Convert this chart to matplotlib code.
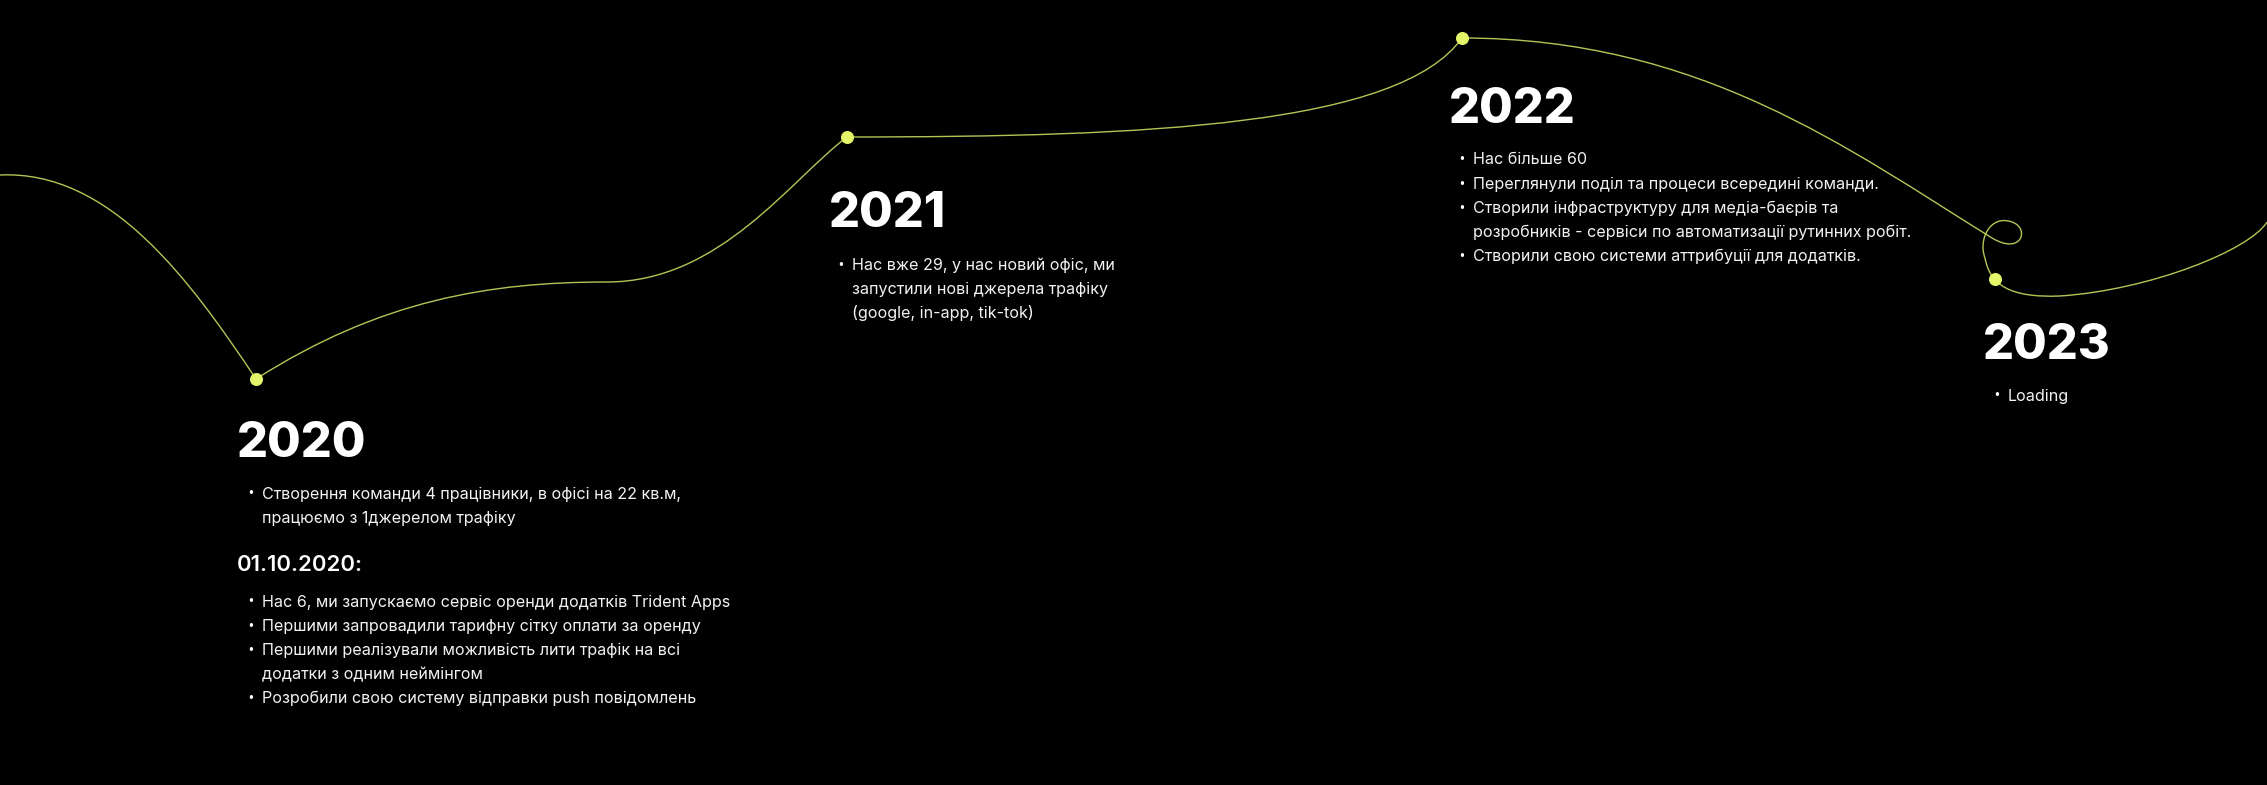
import matplotlib
matplotlib.use("Agg")
import matplotlib.pyplot as plt
from matplotlib.path import Path
from matplotlib.patches import PathPatch

# milestone markers on the curve
years = ["2020", "2021", "2022", "2023"]
marker_x = [256, 847, 1462, 1995]
marker_y = [379, 137, 38, 279]

# bezier route of the timeline (start, then control/ctrl/end triples)
curve_start = (0, 175)
curve_segments = [
    ((110, 170), (190, 280), (256, 379)),
    ((380, 300), (490, 282), (607, 282)),
    ((720, 282), (790, 180), (847, 137)),
    ((1150, 137), (1400, 125), (1462, 38)),
    ((1700, 38), (1850, 150), (1992, 238)),
    ((2022, 256), (2030, 228), (2012, 222)),
    ((1990, 214), (1978, 240), (1985, 258)),
    ((1990, 285), (2010, 298), (2060, 296)),
    ((2150, 290), (2250, 250), (2267, 222)),
]

year_pos = [(237, 444), (829, 214), (1449, 110), (1983, 346)]

bullets_2020 = [
    "Створення команди 4 працівники, в офісі на 22 кв.м,\nпрацюємо з 1джерелом трафіку",
]
subhead_2020 = "01.10.2020:"
bullets_2020b = [
    "Нас 6, ми запускаємо сервіс оренди додатків Trident Apps",
    "Першими запровадили тарифну сітку оплати за оренду",
    "Першими реалізували можливість лити трафік на всі\nдодатки з одним неймінгом",
    "Розробили свою систему відправки push повідомлень",
]
bullets_2021 = [
    "Нас вже 29, у нас новий офіс, ми\nзапустили нові джерела трафіку\n(google, in-app, tik-tok)",
]
bullets_2022 = [
    "Нас більше 60",
    "Переглянули поділ та процеси всередині команди.",
    "Створили інфраструктуру для медіа-баєрів та\nрозробників - сервіси по автоматизації рутинних робіт.",
    "Створили свою системи аттрибуції для додатків.",
]
bullets_2023 = ["Loading"]

LINE_H = 24.2
ACCENT = "#e4f56a"


def draw_bullets(ax, x, y, items):
    for item in items:
        lines = item.split("\n")
        ax.text(x, y, "•", color="white", fontsize=8.5, va="center",
                family="DejaVu Sans")
        for ln in lines:
            ax.text(x + 15, y, ln, color="#f2f2f2", fontsize=11.6,
                    va="center", family=["Inter", "DejaVu Sans"])
            y += LINE_H
    return y


fig = plt.figure(figsize=(22.67, 7.85), dpi=100, facecolor="black")
ax = fig.add_axes([0, 0, 1, 1])
ax.set_facecolor("black")
ax.set_xlim(0, 2267)
ax.set_ylim(785, 0)
ax.axis("off")

verts = [curve_start]
codes = [Path.MOVETO]
for seg in curve_segments:
    verts.extend(seg)
    codes.extend([Path.CURVE4] * 3)
ax.add_patch(PathPatch(Path(verts, codes), fill=False, edgecolor=ACCENT,
                       lw=1.0, alpha=0.8))
ax.scatter(marker_x, marker_y, s=70, color=ACCENT, zorder=3)

for yr, (x, y) in zip(years, year_pos):
    ax.text(x, y, yr, color="white", fontsize=35, fontweight="heavy",
            va="center", family=["Inter", "DejaVu Sans"])

draw_bullets(ax, 247, 494, bullets_2020)
ax.text(237, 565, subhead_2020, color="white", fontsize=16,
        fontweight="semibold", va="center", family=["Inter", "DejaVu Sans"])
draw_bullets(ax, 247, 602, bullets_2020b)
draw_bullets(ax, 837, 265, bullets_2021)
draw_bullets(ax, 1458, 160, bullets_2022)
draw_bullets(ax, 1993, 396, bullets_2023)

fig.savefig("out.png", dpi=100, facecolor="black")
